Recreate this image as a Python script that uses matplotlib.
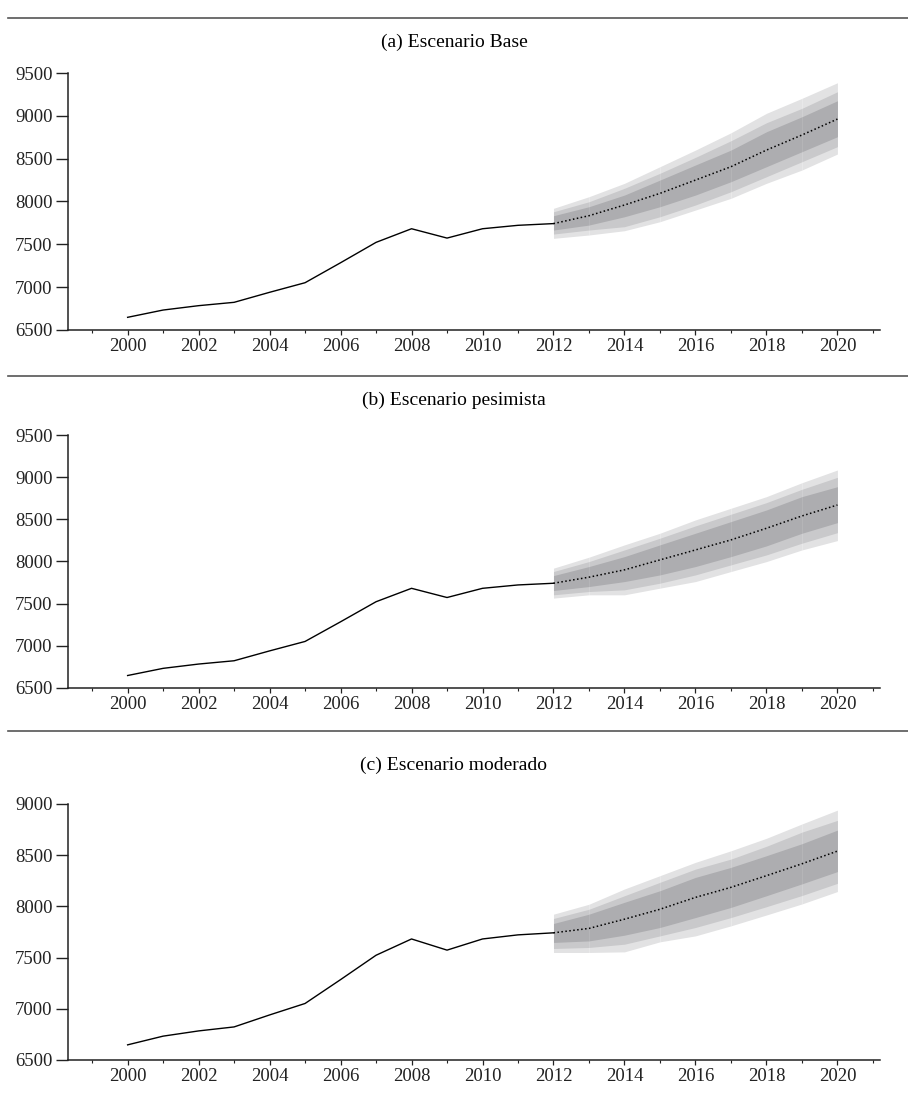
import matplotlib
matplotlib.use("Agg")
import matplotlib.pyplot as plt
from matplotlib.ticker import MultipleLocator

plt.rcParams['font.family'] = ['Liberation Serif', 'DejaVu Serif']

# serie observada 2000-2012
years_hist = list(range(2000, 2013))
hist_values = [6648, 6733, 6784, 6823, 6940, 7052, 7285, 7523, 7682, 7573, 7682, 7722, 7742]

# proyecciones 2012-2020
years_fc = list(range(2012, 2021))

# (a) escenario base
base_median = [7742, 7834, 7959, 8095, 8250, 8406, 8600, 8776, 8962]
base_inner_lo = [7667, 7725, 7822, 7939, 8075, 8231, 8406, 8581, 8756]
base_inner_hi = [7834, 7939, 8075, 8250, 8426, 8600, 8814, 8989, 9176]
base_mid_lo = [7620, 7667, 7706, 7822, 7959, 8114, 8289, 8464, 8640]
base_mid_hi = [7880, 7997, 8154, 8329, 8515, 8709, 8919, 9087, 9281]
base_outer_lo = [7570, 7609, 7659, 7764, 7900, 8037, 8212, 8367, 8554]
base_outer_hi = [7920, 8056, 8212, 8406, 8600, 8802, 9029, 9204, 9386]

# (b) escenario pesimista
pes_median = [7742, 7814, 7901, 8019, 8137, 8256, 8394, 8540, 8670]
pes_inner_lo = [7656, 7703, 7762, 7841, 7940, 8058, 8185, 8335, 8461]
pes_inner_hi = [7833, 7940, 8058, 8197, 8335, 8473, 8611, 8769, 8887]
pes_mid_lo = [7605, 7644, 7664, 7743, 7841, 7960, 8078, 8217, 8342]
pes_mid_hi = [7881, 7999, 8137, 8276, 8422, 8560, 8698, 8856, 8998]
pes_outer_lo = [7566, 7605, 7605, 7684, 7762, 7881, 7999, 8137, 8248]
pes_outer_hi = [7921, 8051, 8197, 8335, 8493, 8631, 8769, 8934, 9085]

# (c) escenario moderado
mod_median = [7742, 7785, 7875, 7972, 8088, 8186, 8300, 8416, 8540]
mod_inner_lo = [7648, 7663, 7719, 7794, 7891, 7990, 8104, 8220, 8340]
mod_inner_hi = [7833, 7924, 8040, 8153, 8283, 8381, 8495, 8612, 8745]
mod_mid_lo = [7589, 7599, 7631, 7712, 7794, 7891, 7997, 8106, 8225]
mod_mid_hi = [7882, 7972, 8104, 8235, 8364, 8462, 8587, 8725, 8840]
mod_outer_lo = [7550, 7550, 7556, 7654, 7712, 7810, 7916, 8024, 8145]
mod_outer_hi = [7924, 8021, 8170, 8300, 8430, 8543, 8665, 8805, 8940]

titles = ["(a) Escenario Base", "(b) Escenario pesimista", "(c) Escenario moderado"]
y_tops = [9500, 9500, 9000]

scenarios = [
    (base_median, base_inner_lo, base_inner_hi, base_mid_lo, base_mid_hi, base_outer_lo, base_outer_hi),
    (pes_median, pes_inner_lo, pes_inner_hi, pes_mid_lo, pes_mid_hi, pes_outer_lo, pes_outer_hi),
    (mod_median, mod_inner_lo, mod_inner_hi, mod_mid_lo, mod_mid_hi, mod_outer_lo, mod_outer_hi),
]

W, H = 908, 1105
fig = plt.figure(figsize=(W / 100, H / 100), dpi=100)

# posiciones en pixeles: (linea separadora, titulo, tope del eje, base del eje)
layout = [(18, 42, 73, 330), (376, 400, 435, 688), (731, 765, 804, 1060)]
left_px, right_px = 68, 880

band_colors = ["#e2e2e3", "#c9c9cb", "#adadb0"]

for (sep_y, title_y, top_y, bot_y), title, ytop, sc in zip(layout, titles, y_tops, scenarios):
    med, ilo, ihi, mlo, mhi, olo, ohi = sc

    fig.add_artist(plt.Line2D([8 / W, 1], [1 - sep_y / H] * 2, color="#555555", lw=1.2))
    fig.text(0.5, 1 - title_y / H, title, ha="center", va="center", fontsize=14)

    ax = fig.add_axes([left_px / W, 1 - bot_y / H, (right_px - left_px) / W, (bot_y - top_y) / H])

    # abanico: cada anio por separado
    for lo, hi, col in [(olo, ohi, band_colors[0]), (mlo, mhi, band_colors[1]), (ilo, ihi, band_colors[2])]:
        for i in range(len(years_fc) - 1):
            ax.fill_between(years_fc[i:i + 2], lo[i:i + 2], hi[i:i + 2],
                            color=col, lw=0, zorder=1)

    ax.plot(years_hist, hist_values, color="black", lw=1.0, zorder=3)
    ax.plot(years_fc, med, color="black", lw=1.1, ls=(0, (1, 1.6)), zorder=3)

    ax.set_xlim(1998.32, 2021.2)
    ax.set_ylim(6500, ytop)
    ax.xaxis.set_major_locator(MultipleLocator(2))
    ax.xaxis.set_minor_locator(MultipleLocator(1))
    ax.yaxis.set_major_locator(MultipleLocator(500))

    for side in ["top", "right"]:
        ax.spines[side].set_visible(False)
    for side in ["left", "bottom"]:
        ax.spines[side].set_linewidth(1.1)
        ax.spines[side].set_color("#222222")

    ax.tick_params(axis="y", which="major", direction="out", length=9, width=1.0,
                   pad=2, labelsize=13.5, colors="#222222")
    ax.tick_params(axis="x", which="major", direction="out", length=3.5, width=0.9,
                   pad=2.5, labelsize=13.5, colors="#222222")
    ax.tick_params(axis="x", which="minor", direction="out", length=2.5, width=0.8,
                   colors="#222222")

fig.savefig("out.png", dpi=100)
